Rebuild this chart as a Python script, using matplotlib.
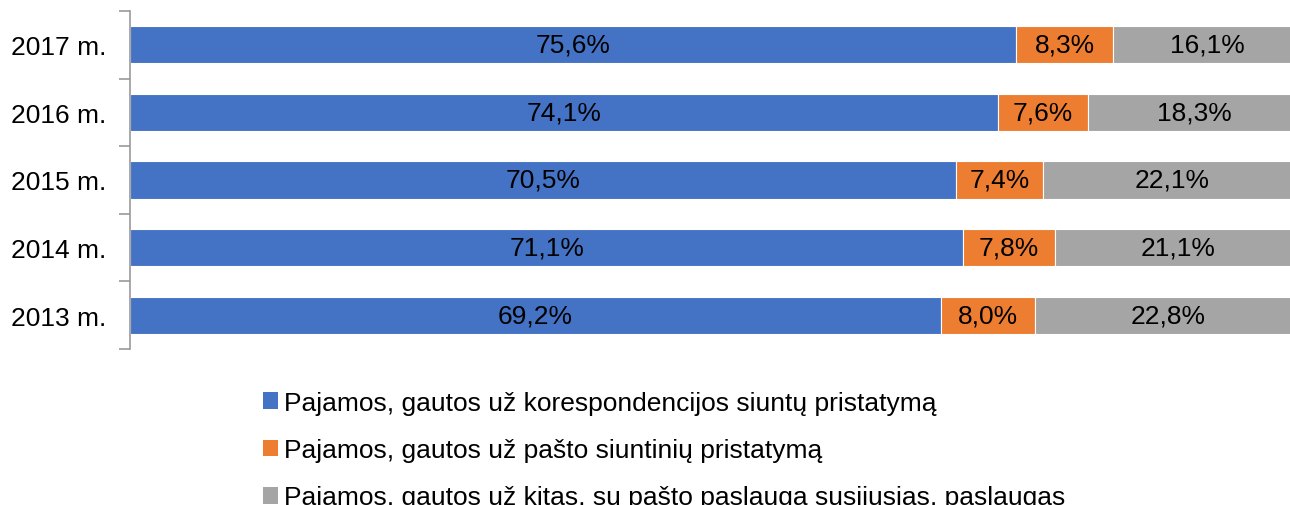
import matplotlib.pyplot as plt
from matplotlib.patches import Patch
import numpy as np

plt.rcParams['font.family'] = ['Liberation Sans', 'DejaVu Sans']

years = ['2013 m.', '2014 m.', '2015 m.', '2016 m.', '2017 m.']
korespondencija = [69.2, 71.1, 70.5, 74.1, 75.6]
siuntiniai = [8.0, 7.8, 7.4, 7.6, 8.3]
kitos = [22.8, 21.1, 22.1, 18.3, 16.1]

series = [
    ('Pajamos, gautos už korespondencijos siuntų pristatymą', korespondencija, '#4472C4'),
    ('Pajamos, gautos už pašto siuntinių pristatymą', siuntiniai, '#ED7D31'),
    ('Pajamos, gautos už kitas, su pašto paslauga susijusias, paslaugas', kitos, '#A5A5A5'),
]

fig = plt.figure(figsize=(12.9, 5.06), dpi=100)
# plot area runs a little past the right edge of the picture
ax = fig.add_axes([130 / 1290, 1 - 350 / 506, 1172 / 1290, (350 - 12) / 506])

y = np.arange(len(years))
left = np.zeros(len(years))
for name, vals, color in series:
    vals = np.array(vals)
    ax.barh(y, vals, left=left, height=0.55, color=color, edgecolor='white', linewidth=0.8)
    for yi, l, v in zip(y, left, vals):
        ax.text(l + v / 2, yi, f'{v:.1f}%'.replace('.', ','), ha='center', va='center',
                fontsize=19, color='black')
    left += vals

ax.set_xlim(0, 100)
ax.set_ylim(-0.5, len(years) - 0.5)
ax.set_yticks(y)
ax.set_yticklabels(years, fontsize=19)
ax.tick_params(axis='y', length=0, pad=17)
ax.set_yticks(np.arange(-0.5, len(years)), minor=True)
ax.tick_params(axis='y', which='minor', length=8, color='#9a9a9a', width=1.2)
ax.set_xticks([])
for s in ['top', 'right', 'bottom']:
    ax.spines[s].set_visible(False)
ax.spines['left'].set_color('#9a9a9a')
ax.spines['left'].set_linewidth(1.2)

handles = [Patch(facecolor=c, edgecolor='none') for _, _, c in series]
fig.legend(handles, [n for n, _, _ in series], loc='upper left',
           bbox_to_anchor=(263 / 1290, 1 - 392 / 506), frameon=False, fontsize=19,
           handlelength=0.55, handleheight=0.6, handletextpad=0.25, labelspacing=0.88,
           borderaxespad=0, borderpad=0)

fig.savefig('out.png', dpi=100)
